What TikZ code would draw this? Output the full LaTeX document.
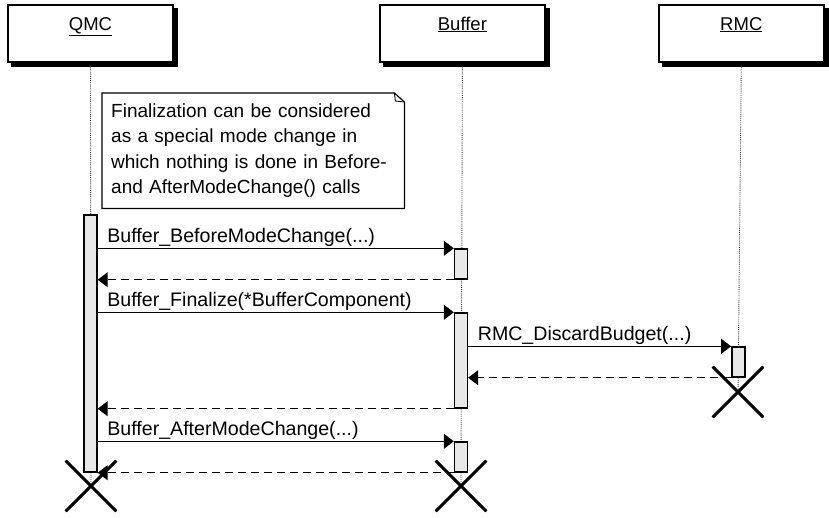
\documentclass[tikz,border=0pt]{standalone}
\usepackage{fontspec}
\setmainfont{Liberation Sans}
\usetikzlibrary{positioning,arrows.meta,shapes.misc,calc}
\tikzset{headbox/.style={draw,line width=1.4pt,fill=white,minimum width=165pt,inner sep=0pt,text height=25pt,text depth=32pt,font=\fontsize{18.5}{22}\selectfont} }
\tikzset{actbar/.style={draw,line width=1.4pt,fill=black!9,minimum width=13pt,inner sep=0pt} }
\tikzset{call/.style={-{Triangle[length=10pt,width=15pt]},line width=1.3pt} }
\tikzset{reply/.style={call,dash pattern=on 8pt off 5pt} }
\tikzset{msg/.style={pos=0,anchor=base west,inner sep=0pt,xshift=9pt,yshift=6pt,font=\fontsize{19.6}{23}\selectfont} }
\tikzset{lifeline/.style={densely dotted,line width=0.9pt,black!75} }
\tikzset{destroy/.style={cross out,draw,line width=2.6pt,minimum size=48pt,inner sep=0pt} }

\begin{document}
\begin{tikzpicture}[x=1pt,y=-1pt]
    \useasboundingbox (0,0) rectangle (829,517);
    \node[headbox] (qmc) at (90.5,33.5) {\underline{QMC}};
    \node[headbox,right=205.5pt of qmc] (buf) {\underline{Buffer}};
    \node[headbox,right=112.5pt of buf] (rmc) {\underline{RMC}};
    \foreach \n in {qmc,buf,rmc} {
        \fill ($(\n.north east)+(0,4)$) rectangle ($(\n.south east)+(4,4)$);
        \fill ($(\n.south west)+(4,0)$) rectangle ($(\n.south east)+(4,4)$);
    }
    \node[destroy] (qmcx) at (91,486) {};
    \node[destroy] (bufx) at (461,486) {};
    \node[destroy] (rmcx) at (738,392) {};
    \draw[lifeline] ($(qmc.south)+(0,4)$) -- (qmcx.center);
    \draw[lifeline] ($(buf.south)+(0,4)$) -- (bufx.center);
    \draw[lifeline] ($(rmc.south)+(0,4)$) -- (rmcx.center);
    \node[anchor=north west,minimum width=302pt,minimum height=115pt,inner xsep=9pt,inner ysep=0pt,text width=284pt,align=left,font=\fontsize{19}{25.3}\selectfont] (note) at (102,93) {Finalization can be considered\\as a special mode change in\\which nothing is done in Before-\\and AfterModeChange() calls};
    \draw[line width=1.2pt] (note.north west) -- ($(note.north east)+(-10,0)$) -- ($(note.north east)+(0,9)$) -- (note.south east) -- (note.south west) -- cycle;
    \draw[line width=0.9pt] ($(note.north east)+(-10,0)$) -- ($(note.north east)+(-9,8)$) -- ($(note.north east)+(0,9)$);
    \node[actbar,minimum height=257pt] (qmcbar) at (90.5,343.5) {};
    \node[actbar,minimum height=30pt] (bufbarA) at (461,264) {};
    \node[actbar,minimum height=95pt] (bufbarB) at (461,360.5) {};
    \node[actbar,minimum height=30pt] (bufbarC) at (461,457) {};
    \node[actbar,minimum height=30pt] (rmcbar) at (738.3,362) {};
    \draw[call] (qmcbar.east |- bufbarA.north) -- node[msg] {Buffer\_BeforeModeChange(...)} (bufbarA.north west);
    \draw[reply] (bufbarA.south west) -- (qmcbar.east |- bufbarA.south);
    \draw[call] (qmcbar.east |- bufbarB.north) -- node[msg] {Buffer\_Finalize(*BufferComponent)} (bufbarB.north west);
    \draw[call] (bufbarB.east |- rmcbar.north) -- node[msg] {RMC\_DiscardBudget(...)} (rmcbar.north west);
    \draw[reply] (rmcbar.south west) -- (bufbarB.east |- rmcbar.south);
    \draw[reply] (bufbarB.south west) -- (qmcbar.east |- bufbarB.south);
    \draw[call] (qmcbar.east |- bufbarC.north) -- node[msg] {Buffer\_AfterModeChange(...)} (bufbarC.north west);
    \draw[reply] (bufbarC.south west) -- (qmcbar.east |- bufbarC.south);
    \node[destroy] at (qmcx) {};
    \node[destroy] at (bufx) {};
    \node[destroy] at (rmcx) {};
\end{tikzpicture}
\end{document}
